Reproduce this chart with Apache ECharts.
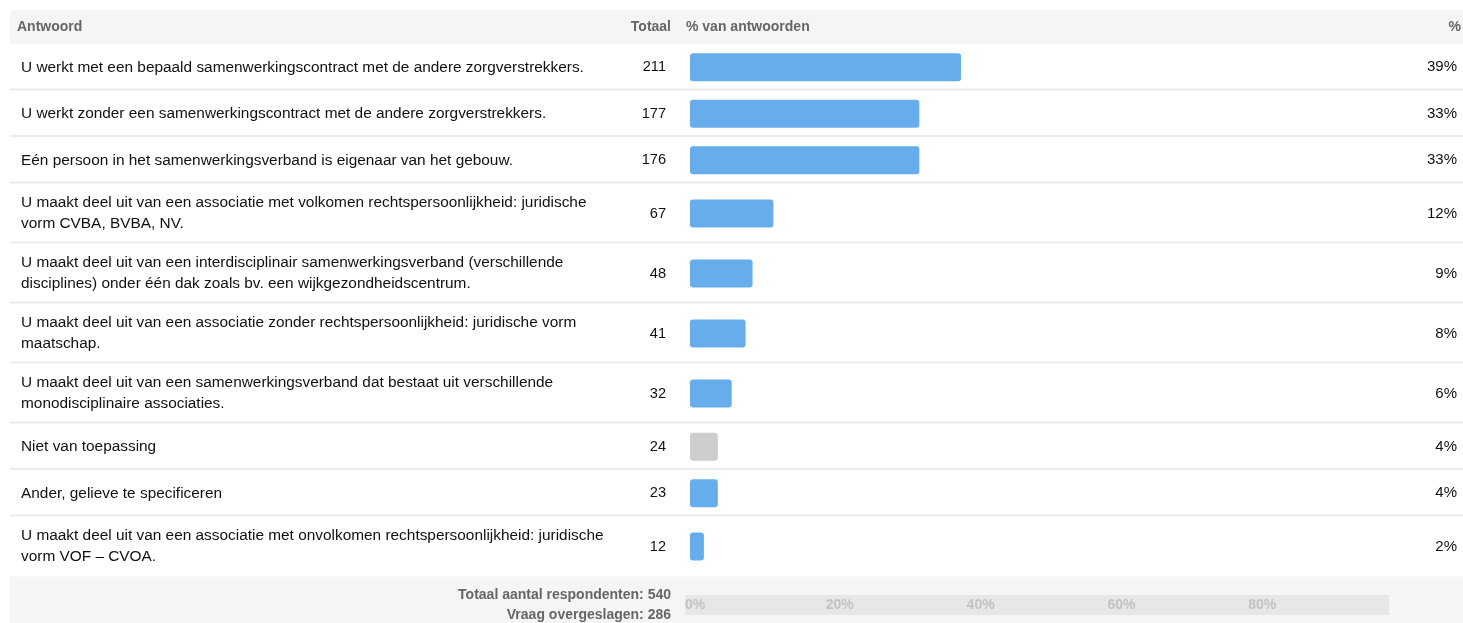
<!DOCTYPE html>
<html>
<head>
<meta charset="utf-8">
<script src="https://cdn.jsdelivr.net/npm/echarts@6/dist/echarts.min.js"></script>
<style>
html,body{margin:0;padding:0;background:#fff;}
#chart{width:1463px;height:623px;}
</style>
</head>
<body>
<div id="chart"></div>
<script>
// ---- data ----
const answers = [
  'U werkt met een bepaald samenwerkingscontract met de andere zorgverstrekkers.',
  'U werkt zonder een samenwerkingscontract met de andere zorgverstrekkers.',
  'Eén persoon in het samenwerkingsverband is eigenaar van het gebouw.',
  'U maakt deel uit van een associatie met volkomen rechtspersoonlijkheid: juridische\nvorm CVBA, BVBA, NV.',
  'U maakt deel uit van een interdisciplinair samenwerkingsverband (verschillende\ndisciplines) onder één dak zoals bv. een wijkgezondheidscentrum.',
  'U maakt deel uit van een associatie zonder rechtspersoonlijkheid: juridische vorm\nmaatschap.',
  'U maakt deel uit van een samenwerkingsverband dat bestaat uit verschillende\nmonodisciplinaire associaties.',
  'Niet van toepassing',
  'Ander, gelieve te specificeren',
  'U maakt deel uit van een associatie met onvolkomen rechtspersoonlijkheid: juridische\nvorm VOF – CVOA.'
];
const totals = [211, 177, 176, 67, 48, 41, 32, 24, 23, 12];
const percents = [39, 33, 33, 12, 9, 8, 6, 4, 4, 2];
const headers = ['Antwoord', 'Totaal', '% van antwoorden', '%'];
const respondentsLabel = 'Totaal aantal respondenten: 540';
const skippedLabel = 'Vraag overgeslagen: 286';
const neutralAnswer = 'Niet van toepassing';

// ---- styles / layout ----
const FONT = '"Liberation Sans", Arial, Helvetica, sans-serif';
const BLUE = '#67adeb';
const GREY = '#cdcdcd';
const SEP = '#ebebeb';
const BAND = '#f5f5f5';

const chart = echarts.init(document.getElementById('chart'), null, {renderer: 'canvas'});

const grids = [], xAxes = [], yAxes = [], series = [], graphics = [];

// header band
graphics.push({type: 'rect', z: -10, shape: {x: 10, y: 10, width: 1453, height: 34}, style: {fill: BAND}, silent: true});
const hStyle = {font: 'bold 14px ' + FONT, fill: '#666', verticalAlign: 'middle'};
graphics.push({type: 'text', x: 17, y: 27.5, style: Object.assign({text: headers[0], align: 'left'}, hStyle)});
graphics.push({type: 'text', x: 671, y: 27.5, style: Object.assign({text: headers[1], align: 'right'}, hStyle)});
graphics.push({type: 'text', x: 686, y: 27.5, style: Object.assign({text: headers[2], align: 'left'}, hStyle)});
graphics.push({type: 'text', x: 1461, y: 27.5, style: Object.assign({text: headers[3], align: 'right'}, hStyle)});

let y = 44;
answers.forEach((a, i) => {
  const h = a.indexOf('\n') >= 0 ? 60 : 46.5;
  grids.push({left: 690, width: 695, top: y + 1, height: h - 2, containLabel: false});
  xAxes.push({type: 'value', gridIndex: i, min: 0, max: 100, show: false});
  const base = {type: 'category', gridIndex: i, axisLine: {show: false}, axisTick: {show: false}, splitLine: {show: false}};
  yAxes.push(Object.assign({}, base, {position: 'left', data: [a],
    axisLabel: {align: 'left', margin: 669, color: '#111', fontSize: 15.4, lineHeight: 21, fontFamily: FONT}}));
  yAxes.push(Object.assign({}, base, {position: 'left', data: [String(totals[i])],
    axisLabel: {align: 'right', margin: 24, color: '#111', fontSize: 14.6, fontFamily: FONT}}));
  yAxes.push(Object.assign({}, base, {position: 'right', data: [percents[i] + '%'],
    axisLabel: {align: 'right', margin: 72, color: '#111', fontSize: 15, fontFamily: FONT}}));
  series.push({type: 'bar', xAxisIndex: i, yAxisIndex: 3 * i, data: [percents[i]], barWidth: 28,
    itemStyle: {color: a === neutralAnswer ? GREY : BLUE, borderRadius: 3}, silent: true});
  if (i < answers.length - 1) {
    graphics.push({type: 'rect', z: -10, shape: {x: 10, y: y + h - 2, width: 1453, height: 2}, style: {fill: SEP}, silent: true});
  }
  y += h;
});

// footer band
const footTop = y;
graphics.push({type: 'rect', z: -10, shape: {x: 10, y: footTop, width: 1453, height: 623 - footTop}, style: {fill: BAND}, silent: true});
const fStyle = {font: 'bold 14px ' + FONT, fill: '#666', verticalAlign: 'middle', align: 'right'};
graphics.push({type: 'text', x: 671, y: footTop + 19, style: Object.assign({text: respondentsLabel}, fStyle)});
graphics.push({type: 'text', x: 671, y: footTop + 39, style: Object.assign({text: skippedLabel}, fStyle)});

// footer scale
const fi = answers.length;
grids.push({left: 685, width: 704, top: footTop + 18.5, height: 20, show: true, backgroundColor: '#e7e7e7', borderWidth: 0, z: 1});
xAxes.push({type: 'value', gridIndex: fi, min: 0, max: 100, interval: 20, position: 'top', z: 5,
  axisLine: {show: false}, axisTick: {show: false}, splitLine: {show: false},
  axisLabel: {inside: true, margin: 10, verticalAlign: 'middle', align: 'left', color: '#c2c2c2', fontSize: 14, fontWeight: 'bold', fontFamily: FONT,
    formatter: v => v >= 100 ? '' : v + '%'}});
yAxes.push({type: 'value', gridIndex: fi, show: false});

chart.setOption({
  animation: false,
  backgroundColor: '#fff',
  textStyle: {fontFamily: FONT},
  grid: grids,
  xAxis: xAxes,
  yAxis: yAxes,
  series: series,
  graphic: graphics
});
</script>
</body>
</html>
